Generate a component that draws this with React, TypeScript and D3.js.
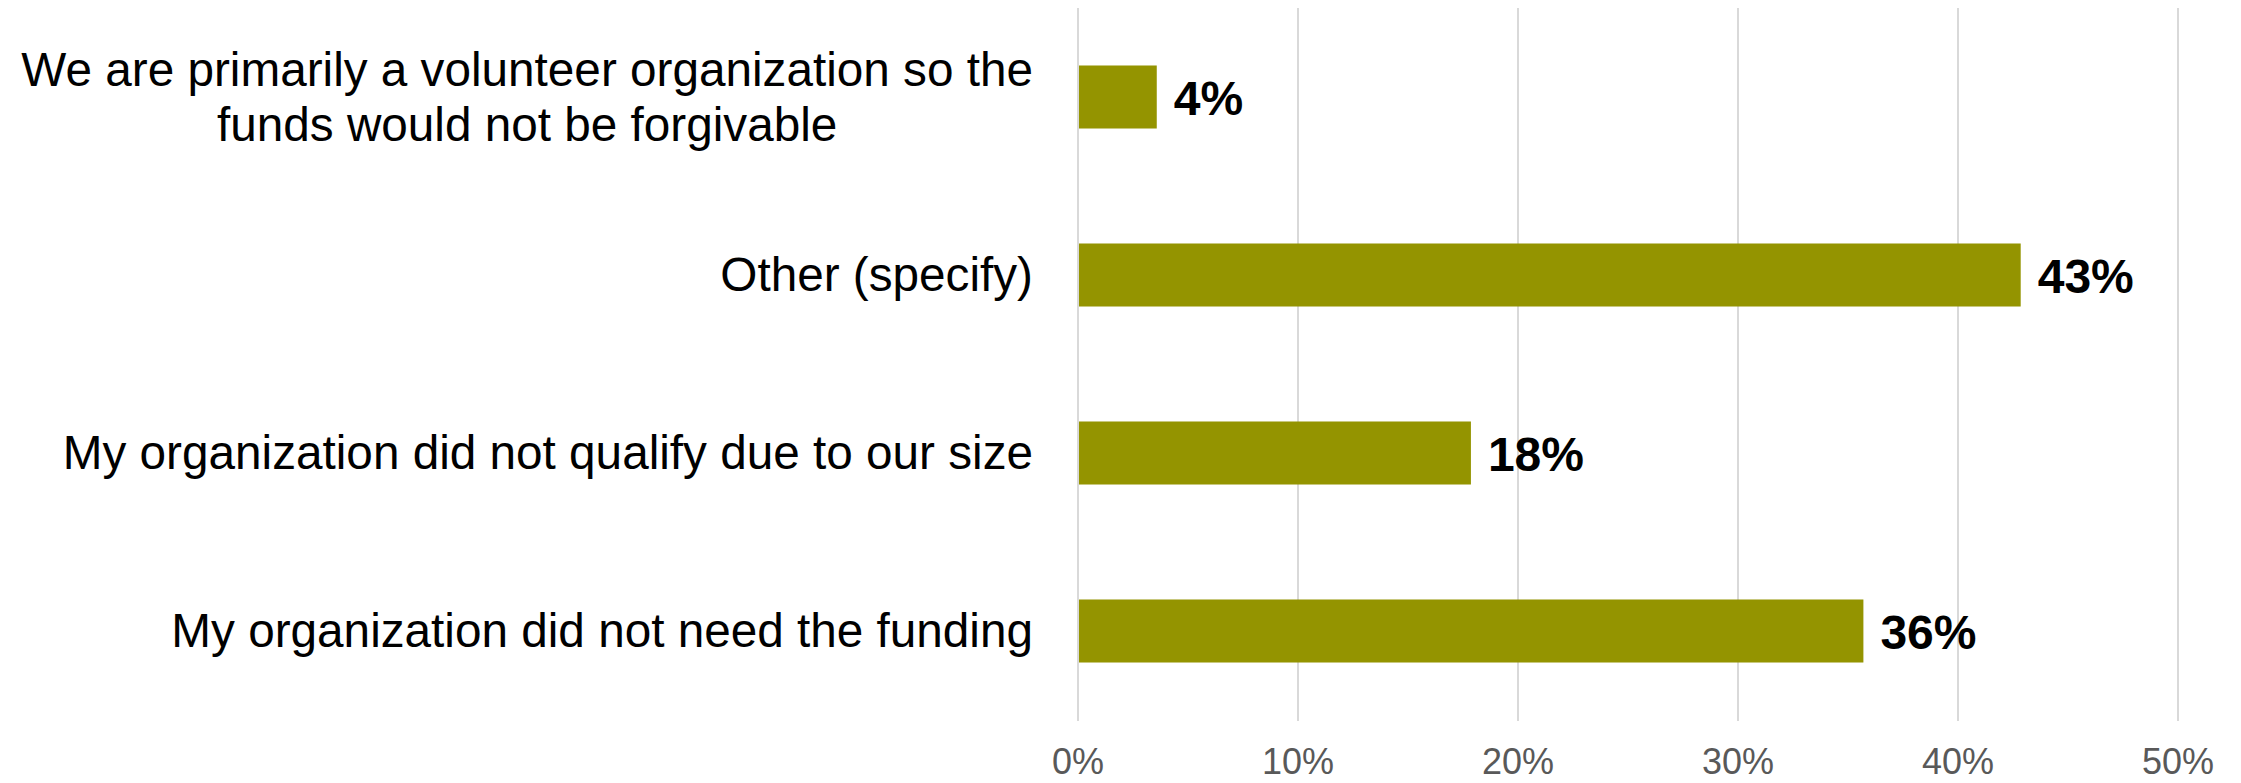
import React from 'react';
import * as d3 from 'd3';

const categories = [
  ['We are primarily a volunteer organization so the', 'funds would not be forgivable'],
  ['Other (specify)'],
  ['My organization did not qualify due to our size'],
  ['My organization did not need the funding'],
];
const values = [3.58, 42.85, 17.86, 35.7];
const valueLabels = ['4%', '43%', '18%', '36%'];
const ticks = [0, 10, 20, 30, 40, 50];

const width = 2241;
const height = 783;
const margin = { left: 1078, right: 63, top: 8, bottom: 63 };
const barColor = '#949400';
const font = '"Liberation Sans", Arial, sans-serif';

const App: React.FC = () => {
  const svgRef = React.useRef<SVGSVGElement>(null);

  React.useEffect(() => {
    document.body.style.margin = '0';
    const svg = d3.select(svgRef.current!);
    svg.selectAll('*').remove();

    const x = d3.scaleLinear()
      .domain([0, 50])
      .range([margin.left, width - margin.right]);

    const y = d3.scaleBand()
      .domain(categories.map((_, i) => String(i)))
      .range([margin.top, height - margin.bottom])
      .paddingInner(0.646)
      .paddingOuter(0.323);

    // gridlines
    svg.append('g')
      .selectAll('line')
      .data(ticks)
      .join('line')
        .attr('x1', d => x(d))
        .attr('x2', d => x(d))
        .attr('y1', margin.top)
        .attr('y2', height - margin.bottom + 1)
        .attr('stroke', '#d9d9d9')
        .attr('stroke-width', 2);

    // tick labels
    svg.append('g')
      .selectAll('text')
      .data(ticks)
      .join('text')
        .attr('x', d => x(d))
        .attr('y', 774)
        .attr('text-anchor', 'middle')
        .attr('font-family', font)
        .attr('font-size', 36)
        .attr('fill', '#595959')
        .text(d => `${d}%`);

    // bars
    svg.append('g')
      .selectAll('rect')
      .data(values)
      .join('rect')
        .attr('x', x(0) + 1)
        .attr('y', (_, i) => y(String(i))!)
        .attr('width', d => x(d) - x(0) - 1)
        .attr('height', y.bandwidth())
        .attr('fill', barColor);

    // value labels
    svg.append('g')
      .selectAll('text')
      .data(values)
      .join('text')
        .attr('x', d => x(d) + 17)
        .attr('y', (_, i) => y(String(i))! + y.bandwidth() / 2 + 18)
        .attr('font-family', font)
        .attr('font-size', 48)
        .attr('font-weight', 'bold')
        .attr('fill', '#000')
        .text((_, i) => valueLabels[i]);

    // category labels, lines centered on each other, block right-aligned
    const labelRight = 1033;
    const lineHeight = 55;
    const catG = svg.append('g');
    categories.forEach((lines, i) => {
      const cy = y(String(i))! + y.bandwidth() / 2;
      const g = catG.append('g');
      const texts = lines.map((line, j) => g.append('text')
        .attr('y', cy + 16 + (j - (lines.length - 1) / 2) * lineHeight)
        .attr('text-anchor', 'middle')
        .attr('font-family', font)
        .attr('font-size', 47.7)
        .attr('fill', '#000')
        .text(line));
      const maxW = d3.max(texts, t => (t.node() as SVGTextElement).getComputedTextLength()) || 0;
      texts.forEach(t => t.attr('x', labelRight - maxW / 2));
    });
  }, []);

  return <svg ref={svgRef} width={width} height={height} style={{ display: 'block', background: '#fff' }} />;
};

export default App;
